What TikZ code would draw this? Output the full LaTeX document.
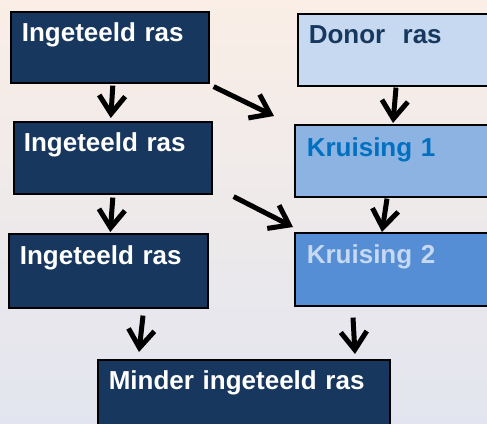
\documentclass[tikz,border=0pt]{standalone}
\usepackage{fontspec}
\setmainfont{Liberation Sans}
\usetikzlibrary{arrows.meta,calc}
\definecolor{navy}{HTML}{17375E}
\definecolor{donorfill}{HTML}{C6D9F1}
\definecolor{kone}{HTML}{8DB3E2}
\definecolor{ktwo}{HTML}{558ED5}
\definecolor{konetext}{HTML}{0070C0}
\definecolor{bgtop}{HTML}{FAEEE6}
\definecolor{bgbot}{HTML}{E2E5EF}
\tikzset{
  box/.style={draw=black, line width=1.6pt, anchor=north west, inner ysep=0pt,
    align=left, font=\bfseries\fontsize{26}{30}\selectfont},
  navybox/.style={box, fill=navy, text=white},
  arr/.style={line width=5pt, -{Straight Barb[length=18pt,width=26pt,line width=5pt]}}
}
\begin{document}
\begin{tikzpicture}[x=1pt,y=-1pt]
\useasboundingbox (0,0) rectangle (487,423);
\clip (0,0) rectangle (487,423);
\shade[top color=bgtop, bottom color=bgbot] (0,0) rectangle (487,423);

\node[navybox, inner xsep=11pt, text width=176pt, text height=30pt, text depth=41pt] (a1) at (10,11) {Ingeteeld ras};
\node[navybox, inner xsep=10pt, text width=178pt, text height=30pt, text depth=42pt] (a2) at (13,121) {Ingeteeld ras};
\node[navybox, inner xsep=11pt, text width=177pt, text height=31pt, text depth=43pt] (a3) at (8,233) {Ingeteeld ras};
\node[box, fill=donorfill, text=navy, inner xsep=11pt, text width=198pt, text height=30pt, text depth=42pt] (d) at (297,13) {Donor\ \ ras};
\node[box, fill=kone, text=konetext, inner xsep=12pt, text width=196pt, text height=32pt, text depth=40pt] (k1) at (294,124) {Kruising 1};
\node[box, fill=ktwo, text=donorfill, inner xsep=12pt, text width=196pt, text height=31pt, text depth=42pt] (k2) at (294,232) {Kruising 2};
\node[navybox, inner xsep=11pt, text width=270pt, text height=30pt, text depth=50pt] (m) at (97,359) {Minder ingeteeld ras};

\draw[arr] ([xshift=3pt,yshift=-2pt]a1.south) -- ([xshift=-2pt,yshift=3pt]a2.north);
\draw[arr] ([xshift=4pt,yshift=-3pt]a1.south east) -- ([xshift=-20pt,yshift=8pt]k1.north west);
\draw[arr] ([xshift=99pt,yshift=-1pt]d.south west) -- ([xshift=99pt,yshift=1pt]k1.north west);
\draw[arr] ([yshift=-3pt]a2.south) -- ([xshift=2pt,yshift=1pt]a3.north);
\draw[arr] ([xshift=21pt,yshift=-2pt]a2.south east) -- ([xshift=-1pt,yshift=5pt]k2.north west);
\draw[arr] ([xshift=93pt,yshift=-1pt]k1.south west) -- ([xshift=88pt]k2.north west);
\draw[arr] ([xshift=135pt,yshift=-7pt]a3.south west) -- ([xshift=42pt,yshift=7pt]m.north west);
\draw[arr] ([xshift=59pt,yshift=-11pt]k2.south west) -- ([xshift=258pt,yshift=5pt]m.north west);
\end{tikzpicture}
\end{document}
